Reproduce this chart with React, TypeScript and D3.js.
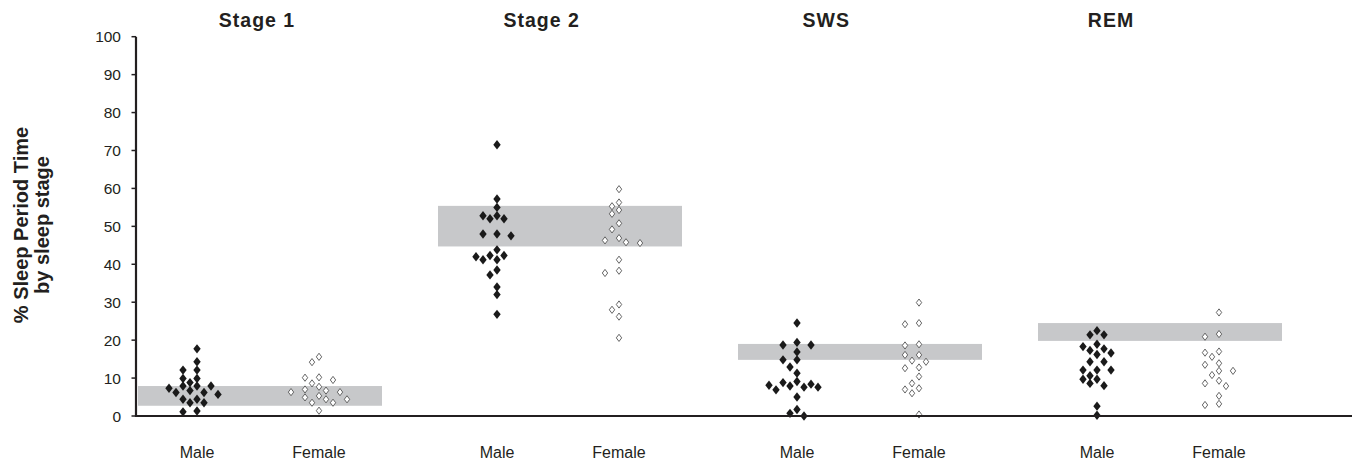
import React from "react";
import * as d3 from "d3";

const stages = ["Stage 1", "Stage 2", "SWS", "REM"];
const sexes = ["Male", "Female"];
const yTicks = [0, 10, 20, 30, 40, 50, 60, 70, 80, 90, 100];

// % sleep period time per subject
const stage1Male = [17.7, 14.3, 12.1, 12.1, 9.9, 9.9, 8.8, 7.9, 7.9, 7.9, 7.3, 6.7, 6.2, 6.2, 5.7, 4.4, 4.4, 3.5, 3.5, 1.1, 1.3];
const stage1Female = [15.6, 14.2, 10.2, 9.5, 10.1, 8.6, 7.7, 7.0, 6.3, 6.3, 6.7, 4.9, 5.3, 4.4, 4.4, 3.5, 3.5, 1.4];
const stage2Male = [71.5, 57.2, 55.0, 52.0, 52.8, 52.8, 52.0, 48.0, 47.5, 48.0, 43.8, 42.3, 42.3, 41.2, 41.2, 42.0, 38.5, 37.2, 34.0, 32.0, 26.8];
const stage2Female = [59.8, 56.3, 55.3, 54.3, 53.3, 50.8, 49.2, 45.6, 45.8, 46.3, 46.9, 41.2, 37.7, 38.3, 29.4, 28.0, 26.2, 20.6];
const swsMale = [24.5, 18.7, 19.4, 18.7, 16.9, 14.8, 14.8, 12.9, 11.3, 6.9, 8.4, 7.6, 8.1, 8.8, 7.6, 9.1, 7.9, 5.0, 1.7, 0.7, 0.0];
const swsFemale = [29.9, 24.2, 24.5, 18.6, 18.9, 16.1, 16.1, 14.3, 14.6, 12.6, 12.8, 10.4, 8.6, 7.0, 6.0, 7.3, 0.4];
const remMale = [22.5, 21.4, 21.4, 18.3, 18.9, 17.3, 16.2, 17.7, 16.6, 14.3, 14.3, 12.1, 12.1, 12.1, 10.6, 9.7, 9.7, 8.0, 8.6, 2.6, 0.2];
const remFemale = [27.3, 20.9, 21.6, 16.7, 15.6, 17.0, 13.5, 11.9, 10.8, 13.9, 11.9, 9.3, 7.9, 8.6, 5.3, 2.9, 3.2];

// reference range (gray band) per stage
const bandLow = [2.7, 44.7, 14.8, 19.8];
const bandHigh = [7.9, 55.4, 19.0, 24.5];

const seriesByStage: Record<string, Record<string, number[]>> = {
  "Stage 1": { Male: stage1Male, Female: stage1Female },
  "Stage 2": { Male: stage2Male, Female: stage2Female },
  SWS: { Male: swsMale, Female: swsFemale },
  REM: { Male: remMale, Female: remFemale },
};

const W = 1355;
const H = 464;
const INK = "#231f20";
const FONT = "'Liberation Sans', Arial, Helvetica, sans-serif";

const y = d3.scaleLinear().domain([0, 100]).range([416, 36.7]);
const xStage = d3.scaleBand<string>().domain(stages).range([108, 1308]);
const xSex = d3.scalePoint<string>().domain(sexes).range([89, 211]);
const xTitle = d3.scalePoint<string>().domain(stages).range([257, 1111]);

function swarm(values: number[], step = 7, dist = 7.5): number[] {
  const order = values.map((_, i) => i).sort((a, b) => values[b] - values[a]);
  const placed: { slot: number; py: number }[] = [];
  const out: number[] = new Array(values.length).fill(0);
  for (const i of order) {
    const py = y(values[i]);
    for (let k = 0; k < 60; k++) {
      const slot = k === 0 ? 0 : k % 2 === 1 ? -Math.ceil(k / 2) : Math.ceil(k / 2);
      const ok = placed.every((p) => {
        const dx = (p.slot - slot) * step;
        const dy = p.py - py;
        return dx * dx + dy * dy >= dist * dist;
      });
      if (ok) {
        placed.push({ slot, py });
        out[i] = slot * step;
        break;
      }
    }
  }
  return out;
}

const diamond = (w: number, h: number) => `M0,${-h}L${w},0L0,${h}L${-w},0Z`;
const filledPath = diamond(3.7, 4.7);
const openPath = diamond(2.7, 3.6);

export default function App() {
  return (
    <svg
      width={W}
      height={H}
      style={{ position: "absolute", left: 0, top: 0, background: "#fff" }}
      fontFamily={FONT}
    >
      <rect x={0} y={0} width={W} height={H} fill="#fff" />
      {/* gray reference bands */}
      {stages.map((s, i) => {
        const x0 = (xStage(s) as number) + 30;
        return (
          <rect
            key={"band" + s}
            x={x0}
            y={y(bandHigh[i])}
            width={244}
            height={y(bandLow[i]) - y(bandHigh[i])}
            fill="#c7c8ca"
          />
        );
      })}

      {/* points */}
      {stages.map((s) =>
        sexes.map((sex) => {
          const vals = seriesByStage[s][sex];
          const offs = swarm(vals);
          const cx = (xStage(s) as number) + (xSex(sex) as number);
          return vals.map((v, i) => (
            <path
              key={s + sex + i}
              transform={`translate(${cx + offs[i]},${y(v)})`}
              d={sex === "Male" ? filledPath : openPath}
              fill={sex === "Male" ? "#1a1a1a" : "#fff"}
              stroke={sex === "Male" ? "none" : "#555"}
              strokeWidth={0.9}
            />
          ));
        })
      )}

      {/* axes */}
      <line x1={136} x2={136} y1={y(100)} y2={y(0) + 1} stroke={INK} strokeWidth={2.2} />
      <line x1={135} x2={1352} y1={y(0)} y2={y(0)} stroke={INK} strokeWidth={2.2} />
      {yTicks.map((t) => (
        <g key={"t" + t}>
          <line x1={131.5} x2={136} y1={y(t)} y2={y(t)} stroke={INK} strokeWidth={1.5} />
          <text x={121} y={y(t)} dy="0.36em" textAnchor="end" fontSize={15.5} fill={INK}>
            {t}
          </text>
        </g>
      ))}

      {/* category labels */}
      {stages.map((s) =>
        sexes.map((sex) => (
          <text
            key={"l" + s + sex}
            x={(xStage(s) as number) + (xSex(sex) as number)}
            y={458}
            textAnchor="middle"
            fontSize={16}
            fill={INK}
          >
            {sex}
          </text>
        ))
      )}

      {/* stage titles */}
      {stages.map((s) => (
        <text
          key={"title" + s}
          x={xTitle(s) as number}
          y={27}
          textAnchor="middle"
          fontSize={19.5}
          fontWeight="bold"
          fill={INK}
          style={{ letterSpacing: "1px" }}
        >
          {s}
        </text>
      ))}

      {/* y title */}
      <g transform="translate(28,225) rotate(-90)">
        <text x={0} y={0} textAnchor="middle" fontSize={20} fontWeight="bold" fill={INK}>
          % Sleep Period Time
        </text>
        <text x={0} y={21} textAnchor="middle" fontSize={20} fontWeight="bold" fill={INK}>
          by sleep stage
        </text>
      </g>
    </svg>
  );
}
